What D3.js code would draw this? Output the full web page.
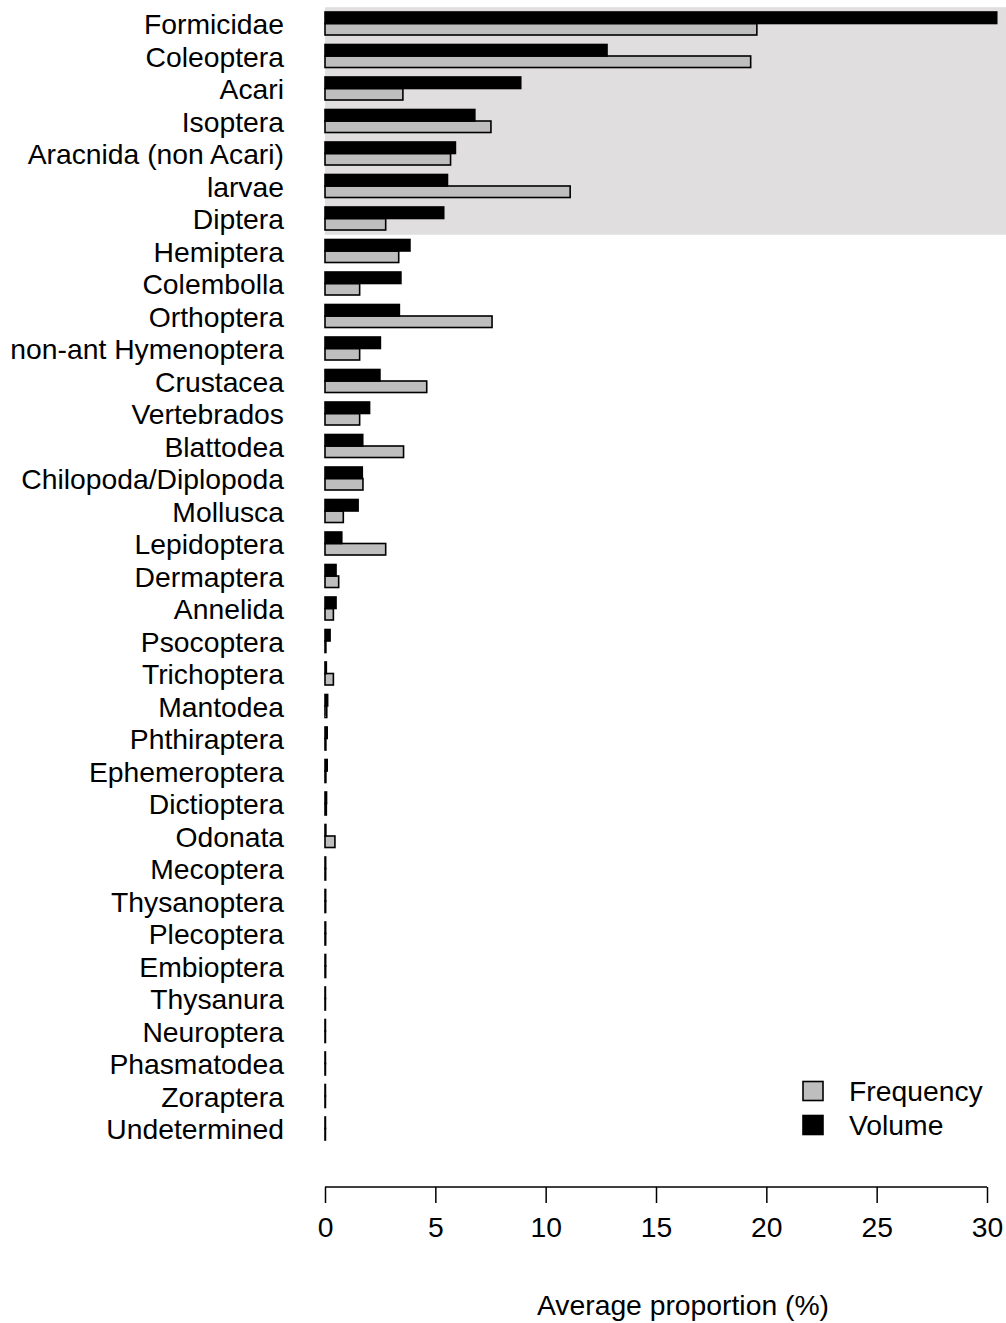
<!DOCTYPE html>
<html>
<head>
<meta charset="utf-8">
<script src="https://cdn.jsdelivr.net/npm/d3@7"></script>
<style>
  html, body { margin: 0; padding: 0; background: #fff; }
  svg text { font-family: "Liberation Sans", Arial, Helvetica, sans-serif; fill: #000; }
</style>
</head>
<body>
<svg id="chart" width="1006" height="1323"></svg>
<script>
const categories = ["Formicidae","Coleoptera","Acari","Isoptera","Aracnida (non Acari)","larvae","Diptera",
  "Hemiptera","Colembolla","Orthoptera","non-ant Hymenoptera","Crustacea","Vertebrados","Blattodea",
  "Chilopoda/Diplopoda","Mollusca","Lepidoptera","Dermaptera","Annelida","Psocoptera","Trichoptera",
  "Mantodea","Phthiraptera","Ephemeroptera","Dictioptera","Odonata","Mecoptera","Thysanoptera",
  "Plecoptera","Embioptera","Thysanura","Neuroptera","Phasmatodea","Zoraptera","Undetermined"];
const frequency = [19.57,19.29,3.53,7.52,5.69,11.11,2.75,3.34,1.57,7.57,1.57,4.61,1.57,3.56,1.72,0.83,2.75,
  0.62,0.38,0.04,0.38,0.08,0.04,0.04,0.06,0.45,0.03,0.03,0.03,0.03,0.02,0.02,0.02,0.02,0.02];
const volume = [30.44,12.78,8.87,6.79,5.91,5.55,5.38,3.85,3.44,3.37,2.51,2.49,2.02,1.71,1.69,1.50,0.76,
  0.50,0.50,0.23,0.06,0.12,0.10,0.10,0.07,0.04,0.03,0.03,0.03,0.03,0.02,0.02,0.02,0.02,0.02];
const highlighted = categories.slice(0, 7);
const seriesNames = ["Volume","Frequency"];
const seriesColors = {"Volume":"#000000","Frequency":"#bebebe"};
const xTicks = [0,5,10,15,20,25,30];
const xTitle = "Average proportion (%)";

const FS = 28.3;
const svg = d3.select("#chart");
const x = d3.scaleLinear().domain([0, 30]).range([325, 987]);
const y = d3.scaleBand().domain(categories).range([7.25, 7.25 + 35 * 32.5])
  .paddingInner(0.292).paddingOuter(0.146);
const ySub = d3.scaleBand().domain(seriesNames).range([0, y.bandwidth()]);

const rows = categories.map((c, i) => ({cat: c, Volume: volume[i], Frequency: frequency[i]}));

// highlight band
svg.append("rect")
  .attr("x", x(0)).attr("width", 1006 - x(0))
  .attr("y", y(highlighted[0]) - y.step() * y.paddingInner() / 2)
  .attr("height", y.step() * highlighted.length)
  .attr("fill", "#e0dedf");

// bars
const g = svg.append("g");
rows.forEach(r => {
  ["Frequency","Volume"].forEach(s => {
    g.append("rect")
      .attr("x", x(0))
      .attr("y", y(r.cat) + ySub(s))
      .attr("width", Math.max(0, x(r[s]) - x(0)))
      .attr("height", ySub.bandwidth())
      .attr("fill", seriesColors[s])
      .attr("stroke", "#000")
      .attr("stroke-width", 1.6);
  });
});

// category labels
svg.append("g").selectAll("text").data(categories).join("text")
  .attr("x", 284)
  .attr("y", d => y(d) + y.bandwidth() / 2 + 0.5)
  .attr("text-anchor", "end")
  .attr("dominant-baseline", "central")
  .attr("font-size", FS)
  .text(d => d);

// x axis
const axis = svg.append("g").attr("transform", "translate(0,1187)")
  .call(d3.axisBottom(x).tickValues(xTicks).tickSize(16).tickPadding(14).tickFormat(d3.format("d")));
axis.select(".domain").attr("stroke", "#000").attr("stroke-width", 1.5)
  .attr("d", `M${x(0)},0H${x(30)}`);
axis.selectAll(".tick line").attr("stroke", "#000").attr("stroke-width", 1.5);
axis.selectAll(".tick text").attr("font-size", FS)
  .attr("font-family", "'Liberation Sans', Arial, Helvetica, sans-serif").attr("fill", "#000");

svg.append("text").attr("x", 683).attr("y", 1305)
  .attr("text-anchor", "middle").attr("dominant-baseline", "central")
  .attr("font-size", FS).text(xTitle);

// legend
const legendItems = ["Frequency","Volume"];
const lg = svg.append("g");
legendItems.forEach((s, i) => {
  const cy = 1091 + i * 34;
  lg.append("rect").attr("x", 803).attr("y", cy - 9.5).attr("width", 20).attr("height", 19)
    .attr("fill", seriesColors[s]).attr("stroke", "#000").attr("stroke-width", 1.6);
  lg.append("text").attr("x", 849).attr("y", cy).attr("dominant-baseline", "central")
    .attr("font-size", FS).text(s);
});
</script>
</body>
</html>
